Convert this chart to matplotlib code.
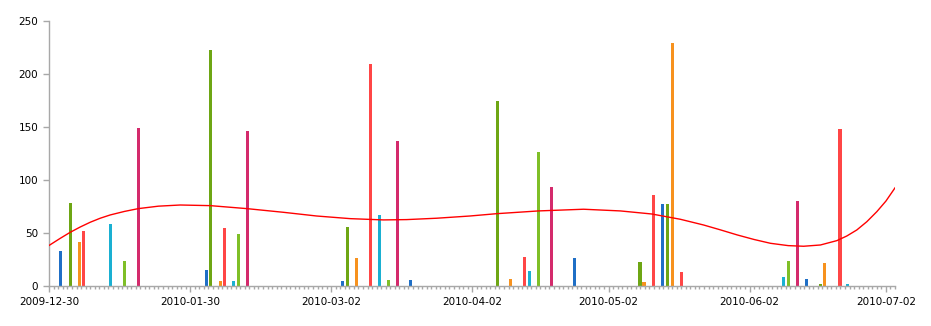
import datetime as dt
import matplotlib
matplotlib.use("Agg")
import matplotlib.pyplot as plt
import matplotlib.dates as mdates

# === 資料 === #
base = dt.datetime(2009, 12, 30)

# 每根柱子的位置（距 2009-12-30 的天數）、數值與顏色
bar_days = [2.4, 4.6, 6.6, 7.5, 13.4, 16.5, 19.6,
            34.5, 35.4, 37.6, 38.5, 40.5, 41.6, 43.6,
            64.5, 65.6, 67.5, 70.6, 72.6, 74.6, 76.6, 79.4,
            98.6, 101.4, 104.5, 105.6, 107.6, 110.5, 115.5,
            129.9, 130.8, 132.8, 134.8, 135.9, 137.0, 139.0,
            161.5, 162.6, 164.6, 166.6, 169.6, 170.5, 173.9, 175.5]
bar_values = [33, 78, 41, 52, 58, 23, 149,
              15, 223, 4, 55, 4, 49, 146,
              4.5, 55.5, 26, 210, 67, 5.4, 137, 5.4,
              175, 6.3, 27, 14, 126.5, 93.4, 26,
              22.4, 3.5, 85.8, 77.3, 77.3, 229.6, 13,
              8.2, 23.4, 80, 6.3, 1.6, 21, 148, 1.6]
bar_colors = ["b", "g", "o", "r", "c", "l", "m",
              "b", "g", "o", "r", "c", "l", "m",
              "b", "g", "o", "r", "c", "l", "m", "b",
              "g", "o", "r", "c", "l", "m", "b",
              "g", "o", "r", "b", "g", "o", "r",
              "c", "l", "m", "b", "g", "o", "r", "c"]
palette = {"b": "#1f6fc6", "g": "#6ea614", "o": "#f7921e", "r": "#ff4646",
           "c": "#1ab0d2", "l": "#7fbf28", "m": "#d42a6c"}

# 趨勢線（從圖上讀出的點）
trend_days = [0, 2.3, 4.6, 6.8, 9, 11.2, 13.4, 16.5, 19.6, 24, 28.8, 35.4,
              43.4, 51.5, 58.8, 66.2, 73.5, 78.6, 85.2, 92.5, 98.4, 107.6,
              117.5, 125.6, 132.5, 138.8, 143.9, 147.6, 151.3, 155, 158.6,
              162.5, 165.9, 169.6, 173.2, 175.4, 177.6, 179.8, 182, 184, 186]
trend_values = [38.2, 44.5, 50.5, 55.5, 60, 63.8, 66.9, 70.2, 72.9, 75.2, 76.3, 75.7,
                72.9, 69.4, 65.9, 63.4, 62.2, 62.5, 63.8, 65.9, 68.1, 70.7,
                72.3, 70.7, 67.8, 62.8, 57.4, 52.8, 48, 43.7, 40.1,
                37.9, 37.3, 38.5, 42.6, 47, 52.7, 60.5, 70, 80, 92.5]

major_dates = ["2009-12-30", "2010-01-30", "2010-03-02", "2010-04-02",
               "2010-05-02", "2010-06-02", "2010-07-02"]


def to_num(days):
    return [mdates.date2num(base + dt.timedelta(days=d)) for d in days]


# === 畫圖 === #
fig = plt.figure(figsize=(9.31, 3.26), dpi=100)
ax = fig.add_axes([49.3 / 931, 40.3 / 326, (895 - 49.3) / 931, (285.7 - 21.3) / 326])

ax.bar(to_num(bar_days), bar_values, width=0.7,
       color=[palette[c] for c in bar_colors], zorder=2)
ax.plot(to_num(trend_days), trend_values, color="#ff0000", lw=1.0, zorder=3)

ax.set_xlim(to_num([0])[0], to_num([186])[0])
ax.set_ylim(0, 250)
ax.set_yticks([0, 50, 100, 150, 200, 250])

major = [mdates.date2num(dt.datetime.strptime(s, "%Y-%m-%d")) for s in major_dates]
ax.set_xticks(major)
ax.set_xticklabels(major_dates)
ax.xaxis.set_minor_locator(mdates.DayLocator())

for s in ["top", "right"]:
    ax.spines[s].set_visible(False)
for s in ["left", "bottom"]:
    ax.spines[s].set_color("#a8a8a8")
    ax.spines[s].set_linewidth(1.0)

ax.tick_params(axis="x", which="major", length=4, width=1, color="#a8a8a8",
               labelsize=7.5, pad=4)
ax.tick_params(axis="x", which="minor", length=2.5, width=1, color="#a8a8a8")
ax.tick_params(axis="y", length=4, width=1, color="#a8a8a8", labelsize=7.5, pad=4)

plt.savefig("out.png", dpi=100)
plt.close()
